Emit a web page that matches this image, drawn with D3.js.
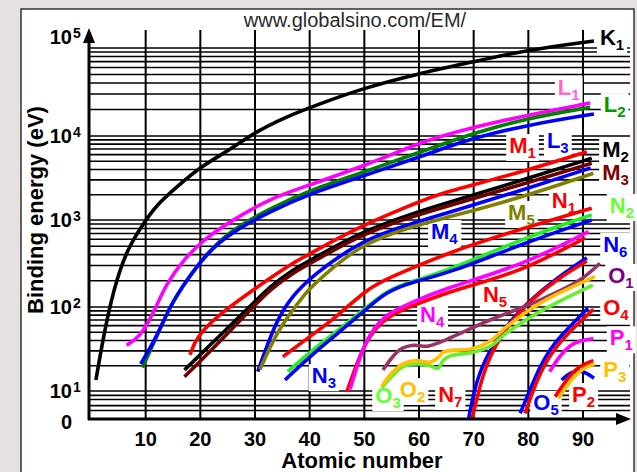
<!DOCTYPE html>
<html>
<head>
<meta charset="utf-8">
<script src="https://cdn.jsdelivr.net/npm/d3@7"></script>
<style>
html, body { margin: 0; padding: 0; background: #e6e0e0; }
svg { display: block; font-family: Arial, "Liberation Sans", sans-serif; }
</style>
</head>
<body>
<svg id="chart" width="637" height="472"></svg>
<script>
// binding energy curves, [atomic number, eV]
const K1 = [[0.9,13.5],[2.25,44],[4.1,157],[6.5,452],[9.6,916],[12,1510],[15.7,2490],[20.5,4520],[25.4,6810],[29.6,10700],[35.7,16600],[41.8,23100],[49.2,34000],[59.6,50700],[70,69800],[79.7,94900],[92,120000]];
const L1 = [[6.5,35],[9,44],[11.4,84],[13.8,187],[16.9,347],[20.5,589],[25.4,955],[32.7,1810],[40.1,2610],[49.2,4280],[53.5,5470],[59.6,8030],[65.7,10800],[77.9,16400],[91.3,23700]];
const L2 = [[9.4,19],[12,44],[14.4,101],[17.5,204],[21.2,414],[25.4,748],[32.7,1370],[40.2,2280],[49.3,3600],[59.5,6220],[65.6,8550],[70,10700],[79.7,15900],[91.3,21200]];
const L3 = [[9.1,21],[12,44],[14.4,101],[17.5,204],[21.2,414],[25.4,703],[32.7,1260],[40.2,2080],[49.3,3270],[59.5,5430],[65.6,7600],[70,9460],[79.7,13300],[92,17800]];
const M1 = [[18.1,27],[19.3,44],[23,77],[27.9,131],[32.7,214],[37,323],[40.2,414],[49.3,853],[59.5,1590],[63.8,2080],[79.1,3760],[90.7,6500]];
const M2 = [[17.1,17.8],[22.3,38],[29.6,109],[32.7,171],[37,271],[40.2,347],[49.4,735],[59.6,1245],[65.7,1640],[79,2990],[91.6,5430]];
const M3 = [[17.1,14.8],[22.3,32],[29.6,99],[32.7,157],[37,248],[40.2,318],[49.4,685],[59.6,1150],[65.7,1490],[79,2680],[91.6,4730]];
const M4 = [[30.5,17],[33.9,71],[37,137],[40.2,221],[49.4,589],[59.6,950],[65.7,1245],[79,2280],[91.4,4160]];
const M5 = [[30.9,18],[33.9,49],[37,94],[39.7,157],[41.8,208],[49.4,540],[59.6,877],[65.7,1090],[79.1,1890],[91.9,3600]];
const N1 = [[35.1,25.6],[41.8,54],[44.9,77],[50.4,157],[53.5,204],[65.7,433],[79.1,803],[91.6,1380]];
const N2 = [[36,17],[40,29],[49.2,84],[54,157],[59.5,204],[65.7,268],[79.1,617],[91.6,1150]];
const N3 = [[35.5,13.5],[40,26],[49.2,80],[54,153],[59.5,199],[65.7,248],[79.1,540],[91.6,1000]];
const N4 = [[47.4,10.5],[49.2,26],[51,49],[54.1,84],[58.4,110],[63.8,157],[79.1,304],[91,735]];
const N5 = [[46.8,9.4],[48.8,23],[50.7,44],[54.1,77],[58.4,101],[63.8,137],[71.1,189],[79.1,266],[90.4,621]];
const N6 = [[69.1,1.1],[70.6,15],[73.7,38],[77.9,86],[84,190],[90.7,369]];
const N7 = [[69.7,1],[71.8,18],[74.8,45],[79.1,102],[85.2,208],[90.7,338]];
const O1 = [[53.4,17.8],[56.5,31],[59,35],[61.4,34],[63.8,38],[73,70],[82.1,120],[89.4,204],[93.1,318]];
const O2 = [[53.2,11.3],[54.7,15.5],[57.1,21],[59.6,23],[62,22],[63.8,26],[64.4,29],[69.9,32],[73,39],[76,58],[82.1,110],[92.2,223]];
const O3 = [[53.2,10.9],[57.1,19.5],[59.6,21],[62,20],[63.5,18.6],[64.4,23],[65.6,26],[69.9,29],[73,34],[76,49],[82.1,88],[91.8,179]];
const O4 = [[79.4,1.6],[80.9,10.3],[82.7,19.5],[85.2,35],[88.8,61],[91.9,94]];
const O5 = [[78.5,1.6],[80.3,10.3],[82.1,19.5],[84.6,37],[88.2,64],[90.9,97]];
const P1 = [[83.9,17],[85.7,26],[87.6,35],[89.4,40],[91.9,42]];
const P2 = [[84.9,6.3],[87.6,15.5],[89.4,20],[91.9,23]];
const P3 = [[85.5,5.5],[88.2,14.8],[90,18.6],[92.1,21]];
const Pb = [[86.1,13.5],[87.6,16.8],[90,17.8],[92,14.2]];

const xTicks = [10, 20, 30, 40, 50, 60, 70, 80, 90];
const yTicks = [1, 10, 100, 1000, 10000, 100000];

// drawing order = stacking order
const series = [
    { name: 'K1', data: K1 }, { name: 'L1', data: L1 }, { name: 'L2', data: L2 }, { name: 'L3', data: L3 },
    { name: 'M1', data: M1 }, { name: 'M2', data: M2 }, { name: 'M3', data: M3 }, { name: 'M4', data: M4 },
    { name: 'M5', data: M5 }, { name: 'N1', data: N1 }, { name: 'N2', data: N2 }, { name: 'N3', data: N3 },
    { name: 'N5', data: N5 }, { name: 'N4', data: N4 }, { name: 'N6', data: N6 }, { name: 'N7', data: N7 },
    { name: 'O1', data: O1 }, { name: 'O3', data: O3 }, { name: 'O2', data: O2 }, { name: 'O5', data: O5 },
    { name: 'O4', data: O4 }, { name: 'P1', data: P1 }, { name: 'Pb', data: Pb }, { name: 'P2', data: P2 },
    { name: 'P3', data: P3 }
];

const lineColor = {
    K1: '#000', L1: '#ff00ff', L2: '#008000', L3: '#0000ff', M1: '#ff0000', M2: '#000', M3: '#700000',
    M4: '#0000ff', M5: '#808000', N1: '#ff0000', N2: '#22ee22', N3: '#0000ff', N4: '#ff00ff', N5: '#ff0000',
    N6: '#0000ff', N7: '#ff0000', O1: '#993366', O2: '#ffc000', O3: '#66ee33', O4: '#ff0000', O5: '#0000ff',
    P1: '#ff00ff', P2: '#ff0000', P3: '#ffc000', Pb: '#0000ff'
};
const labelColor = {
    ...lineColor, L1: '#ff66cc', L2: '#009900', M3: '#800000', N2: '#66ff33', O1: '#800080', O3: '#66ff33'
};
// label anchor (left, baseline) in data units
const labelAt = {
    K1: [93.1, 108000], L1: [85.4, 29200], L2: [93.8, 18700], L3: [83.4, 7200], M1: [76.5, 6280],
    M2: [93.5, 5620], M3: [93.5, 2990], N1: [84.3, 1390], M5: [76.3, 1000], N2: [94.9, 1210],
    M4: [62.2, 605], N6: [93.7, 429], O1: [94.6, 189], N5: [71.7, 114], O4: [93.7, 80],
    N4: [60.2, 66], P1: [94.9, 35], N3: [40.4, 12.4], P3: [93.7, 14.7], O3: [52, 3.7],
    O2: [56.5, 6.1], N7: [63.5, 4.05], O5: [80.9, 2.1], P2: [88, 4.05]
};
// the wavy O curves keep every bend, the rest are smoothed
const wavy = new Set(['O1', 'O2', 'O3']);

const svg = d3.select('#chart');
const x = d3.scaleLinear().domain([0, 90]).range([91, 583]);
const y = d3.scaleLog().domain(yTicks).range([419, 391, 307, 220, 136, 48]);
const x0 = 89, xEnd = 631, yTop = 28;

svg.append('rect').attr('x', 21).attr('y', 9).attr('width', 613).attr('height', 480)
    .attr('fill', '#fff').attr('stroke', '#333').attr('stroke-width', 1.5);

svg.append('text').attr('x', 355).attr('y', 27).attr('text-anchor', 'middle')
    .attr('font-size', 20).attr('fill', '#2a2a2a').text('www.globalsino.com/EM/');

// grid
const gridVals = [2, 3, 5, 7];
for (let d = 1; d <= 4; d++) for (let m = 1; m <= 9; m++) gridVals.push(m * Math.pow(10, d));
gridVals.push(100000);

const grid = svg.append('g').attr('stroke', '#000');
grid.selectAll('line.h').data(gridVals).join('line').attr('class', 'h')
    .attr('x1', x0).attr('x2', 630).attr('y1', d => y(d)).attr('y2', d => y(d)).attr('stroke-width', 1.6);
grid.selectAll('line.v').data(xTicks).join('line').attr('class', 'v')
    .attr('x1', d => x(d)).attr('x2', d => x(d)).attr('y1', 30).attr('y2', 419).attr('stroke-width', 2);

const boxLayer = svg.append('g');
const curveLayer = svg.append('g').attr('fill', 'none');
const axisLayer = svg.append('g');
const labelLayer = svg.append('g').attr('font-weight', 'bold');

const smooth = d3.line().x(d => x(d[0])).y(d => y(d[1])).curve(d3.curveBasis);
const bendy = d3.line().x(d => x(d[0])).y(d => y(d[1])).curve(d3.curveCatmullRom.alpha(0.5));
curveLayer.selectAll('path').data(series).join('path')
    .attr('d', d => (wavy.has(d.name) ? bendy : smooth)(d.data))
    .attr('stroke', d => lineColor[d.name])
    .attr('stroke-width', 3.6);

// axes with arrows
axisLayer.append('line').attr('x1', x0).attr('x2', x0).attr('y1', 420).attr('y2', yTop + 10)
    .attr('stroke', '#000').attr('stroke-width', 3);
axisLayer.append('path').attr('d', `M${x0},${yTop}L${x0 - 6},${yTop + 15}L${x0 + 6},${yTop + 15}Z`);
axisLayer.append('line').attr('x1', x0 - 1).attr('x2', xEnd - 10).attr('y1', 419).attr('y2', 419)
    .attr('stroke', '#000').attr('stroke-width', 3);
axisLayer.append('path').attr('d', `M${xEnd},419L${xEnd - 15},413L${xEnd - 15},425Z`);

const xt = axisLayer.append('g').attr('font-weight', 'bold').attr('font-size', 20);
xt.selectAll('text').data(xTicks).join('text')
    .attr('x', d => x(d)).attr('y', 446).attr('text-anchor', 'middle').text(d => d);

const yt = axisLayer.append('g').attr('font-weight', 'bold');
yTicks.forEach(v => {
    const e = Math.round(Math.log10(v));
    let yy = y(v) + 7;
    if (v === 1) yy += 3;
    if (v === 100000) yy -= 11;
    yt.append('text').attr('x', 72).attr('y', yy).attr('text-anchor', 'end')
        .attr('font-size', 20).text(e === 0 ? '0' : '10');
    if (e > 0) yt.append('text').attr('x', 73).attr('y', yy - 6).attr('font-size', 14).text(e);
});

axisLayer.append('text').attr('x', 362).attr('y', 468).attr('text-anchor', 'middle')
    .attr('font-size', 22).attr('font-weight', 'bold').text('Atomic number');
axisLayer.append('text').attr('transform', 'translate(43,210) rotate(-90)').attr('text-anchor', 'middle')
    .attr('font-size', 22).attr('font-weight', 'bold').text('Binding energy (eV)');

// shell labels on white boxes
Object.keys(labelAt).forEach(k => {
    const p = labelAt[k];
    const t = labelLayer.append('text').attr('x', x(p[0])).attr('y', y(p[1]))
        .attr('font-size', 22).attr('fill', labelColor[k]);
    t.append('tspan').text(k[0]);
    t.append('tspan').attr('font-size', 15).attr('dy', 5).text(k.slice(1));
    const b = t.node().getBBox();
    boxLayer.append('rect').attr('x', b.x - 3).attr('y', b.y + 1).attr('width', b.width + 6)
        .attr('height', b.height - 1).attr('fill', '#fff');
});
</script>
</body>
</html>
